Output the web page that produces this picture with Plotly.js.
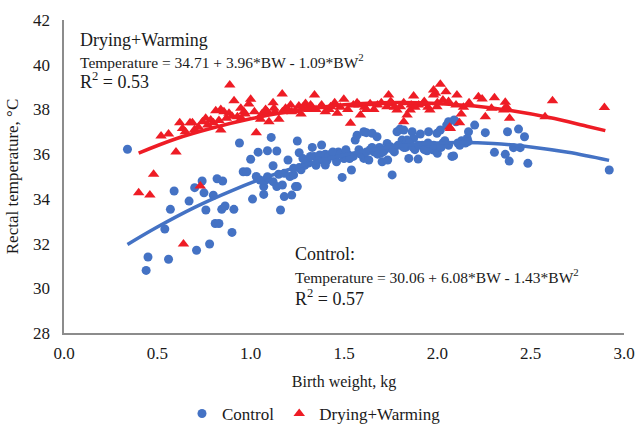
<!DOCTYPE html>
<html>
<head>
<meta charset="utf-8">
<script src="https://cdn.plot.ly/plotly-3.0.1.min.js"></script>
<style>html,body{margin:0;padding:0;background:#fff;}#chart{width:637px;height:427px;}</style>
</head>
<body>
<div id="chart"></div>
<script>
// Control (birth weight kg, rectal temperature °C)
const controlBW = [0.34,0.44,0.45,0.54,0.56,0.57,0.59,0.67,0.70,0.71,0.74,0.75,0.76,0.78,0.80,0.81,0.83,0.82,0.85,0.845,0.863,0.90,0.91,0.94,0.96,0.98,1.0,1.01,
1.04,1.09,1.14,1.11,1.25,1.26,1.12,1.20,1.07,1.07,1.08,1.12,1.16,1.18,1.22,1.24,1.14,1.21,1.23,1.05,1.09,1.17,1.25,1.03,1.15,1.18,1.23,1.27,1.29,1.30,1.31,
1.34,1.37,1.33,1.35,1.38,1.39,1.40,1.41,1.43,1.446,1.46,1.47,1.49,1.50,1.52,1.54,1.55,1.56,1.57,1.58,1.588,1.606,1.606,1.62,1.633,1.64,1.651,1.66,1.677,1.69,1.695,1.704,1.72,1.731,1.734,1.749,1.758,1.77,1.784,1.80,1.811,1.82,1.83,1.838,1.847,1.865,1.873,1.88,1.897,1.909,1.92,1.945,1.953,1.96,1.98,1.998,2.0,2.016,2.03,2.05,2.06,2.078,2.09,2.10,2.087,2.11,2.13,2.15,
1.26,1.28,1.32,1.36,1.40,1.42,1.44,1.48,1.51,1.53,1.59,1.62,1.65,1.68,1.71,1.74,1.76,1.79,1.82,1.85,1.87,1.90,1.93,1.95,1.98,2.02,2.04,2.06,2.12,
2.167,2.16,2.165,2.2,2.257,2.306,2.364,2.376,2.385,2.408,2.435,2.444,2.467,2.485,2.921];
const controlT = [36.22,30.8,31.4,32.65,31.3,33.53,34.35,33.9,34.5,31.7,34.8,34.27,33.5,31.98,34.16,32.9,32.9,34.9,34.8,33.53,33.68,32.5,33.53,36.5,35.21,35.21,35.77,33.99,
36.09,36.15,36.14,36.75,36.59,36.06,35.48,35.74,34.55,34.2,34.84,34.77,33.5,34.1,34.17,34.55,34.55,35.0,35.07,34.84,34.99,34.62,34.55,35.0,35.1,35.14,35.37,35.3,35.5,35.74,35.6,
35.9,35.96,36.3,35.5,36.41,35.7,35.51,35.74,36.0,35.89,35.66,36.1,34.96,35.8,36.0,35.29,35.9,36.63,36.85,36.2,36.04,35.81,37.0,36.96,35.74,36.2,36.93,36.1,36.78,36.3,36.04,35.66,36.2,36.48,35.74,36.33,35.07,36.1,37.0,37.12,36.63,37.08,36.3,36.63,35.81,37.0,36.7,36.2,35.78,36.9,36.4,36.15,37.0,36.35,36.18,36.93,36.04,37.08,36.5,37.3,37.45,35.9,37.53,37.45,35.92,36.5,36.6,36.5,
35.4,35.8,35.9,35.7,36.0,35.9,36.1,36.0,36.2,35.8,36.0,36.1,36.3,36.0,36.1,36.3,36.2,36.4,36.3,36.5,36.3,36.4,36.2,36.5,36.4,36.3,36.6,36.4,36.4,
37.0,36.7,36.56,37.3,36.96,36.08,35.99,37.0,35.69,36.29,37.12,36.29,36.78,35.59,35.29];

// Drying+Warming
const dryBW = [0.40,0.46,0.48,0.60,0.52,0.56,0.62,0.635,0.64,0.675,0.688,0.73,0.742,0.759,0.786,0.813,0.84,0.84,0.857,0.884,0.888,0.911,0.929,0.947,0.964,0.99,1.0,1.03,1.053,1.089,1.098,1.12,1.125,1.151,1.169,1.187,1.214,1.24,1.258,1.27,1.294,1.31,1.321,1.342,1.35,1.374,1.40,1.428,1.45,1.464,1.48,1.499,1.52,1.535,1.55,1.58,1.588,1.61,1.64,1.66,1.70,1.73,1.739,1.758,1.784,1.802,1.82,1.838,1.855,1.873,1.90,1.924,1.96,1.98,1.98,1.99,1.998,2.016,2.03,2.046,2.066,2.07,2.105,2.119,2.128,2.17,2.22,2.24,2.257,2.29,2.306,2.355,2.364,2.37,2.387,2.577,2.617,2.895,
0.65,0.70,0.72,0.77,0.80,0.83,0.87,0.90,0.95,0.97,1.02,1.06,1.08,1.13,1.17,1.20,1.22,1.28,1.33,1.38,1.42,
1.57,1.62,1.68,1.75,1.77,1.82,1.86,1.88,1.93,1.95,2.0,2.06,2.10,2.14];
const dryT = [34.27,34.17,35.1,36.1,36.81,36.9,37.4,37.15,31.98,37.4,37.4,34.57,37.45,37.6,37.53,37.94,38.0,37.08,37.9,37.83,39.09,38.39,37.67,38.05,37.9,38.24,38.45,36.96,37.56,37.9,37.45,38.3,38.05,37.56,38.69,38.05,38.2,37.95,38.15,37.8,38.27,38.0,38.2,38.64,38.0,38.12,37.9,38.12,38.3,37.83,38.1,38.45,38.0,37.38,38.2,38.2,37.75,38.1,38.25,38.0,38.3,38.12,38.64,38.27,37.97,38.12,37.45,37.75,37.97,38.6,38.2,38.27,37.97,38.64,38.87,38.72,38.12,39.13,38.42,38.79,37.2,37.15,38.64,37.4,37.8,38.3,38.57,38.47,37.67,38.05,38.52,37.97,38.32,38.12,37.6,37.67,38.39,38.09,
37.0,37.1,37.2,37.3,37.4,37.5,37.6,37.7,37.6,37.8,37.9,37.8,38.0,37.9,37.9,38.0,37.9,38.1,38.1,38.2,38.0,
38.3,38.0,38.2,38.35,38.1,38.3,38.2,38.1,38.35,38.1,38.3,38.35,38.2,38.1];

// Polynomial trendlines
const trendCtrlBW = [0.34,0.5,0.7,0.9,1.1,1.3,1.5,1.7,1.9,2.1,2.3,2.5,2.7,2.92];
const trendCtrlT  = [31.96,32.74,33.62,34.37,35.02,35.55,35.96,36.26,36.45,36.52,36.48,36.32,36.08,35.72];
const trendDryBW  = [0.40,0.6,0.8,1.0,1.2,1.4,1.6,1.8,2.0,2.2,2.4,2.6,2.8,2.90];
const trendDryT   = [36.05,36.69,37.18,37.58,37.89,38.12,38.26,38.31,38.27,38.15,37.94,37.64,37.25,37.05];

const xTicks = [0,0.5,1.0,1.5,2.0,2.5,3.0];
const yTicks = [28,30,32,34,36,38,40,42];

const dryLabel = ['Drying+Warming', 'Temperature = 34.71 + 3.96*BW - 1.09*BW<sup>2</sup>', 'R<sup>2</sup> = 0.53'];
const ctrlLabel = ['Control:', 'Temperature = 30.06 + 6.08*BW - 1.43*BW<sup>2</sup>', 'R<sup>2</sup> = 0.57'];

const BLUE = '#4472C4', RED = '#EE1C25';
const FONT = 'Liberation Serif';
const TXT = '#1a1a1a';

const traces = [
  {x: controlBW, y: controlT, type: 'scatter', mode: 'markers', name: 'Control',
   marker: {symbol: 'circle', size: 9, color: BLUE}},
  {x: dryBW, y: dryT, type: 'scatter', mode: 'markers', name: 'Drying+Warming',
   marker: {symbol: 'triangle-up', size: 10, color: RED}},
  {x: trendCtrlBW, y: trendCtrlT, type: 'scatter', mode: 'lines', showlegend: false,
   line: {color: BLUE, width: 3.5, shape: 'spline'}, hoverinfo: 'skip'},
  {x: trendDryBW, y: trendDryT, type: 'scatter', mode: 'lines', showlegend: false,
   line: {color: RED, width: 3.5, shape: 'spline'}, hoverinfo: 'skip'}
];

// plot area: x 64..624 px, y 20..333 px
const H = 313;
function py(p) { return (333 - p) / H; }
function px(p) { return (p - 64) / 560; }
function line(txt, xp, yp, size) {
  return {xref: 'paper', yref: 'paper', x: px(xp), y: py(yp), xanchor: 'left', yanchor: 'middle',
          align: 'left', showarrow: false, text: txt, font: {family: FONT, size: size, color: TXT}};
}

const layout = {
  width: 637, height: 427,
  margin: {l: 64, r: 13, t: 20, b: 94, autoexpand: false},
  paper_bgcolor: '#fff', plot_bgcolor: '#fff',
  font: {family: FONT, size: 17, color: TXT},
  showlegend: true,
  legend: {orientation: 'h', x: px(314), xanchor: 'center', y: py(414), yanchor: 'middle',
           font: {family: FONT, size: 17, color: TXT}, itemwidth: 30, tracegroupgap: 0},
  xaxis: {range: [0, 3], tickvals: xTicks, tickformat: '.1f', showgrid: false, zeroline: false,
          showline: true, linecolor: '#8c8c8c', linewidth: 2, ticks: '',
          tickfont: {family: FONT, size: 17}, ticklabelstandoff: 4,
          title: {text: 'Birth weight, kg', font: {family: FONT, size: 16}, standoff: 13}},
  yaxis: {range: [28, 42], tickvals: yTicks, showgrid: false, zeroline: false,
          showline: true, linecolor: '#8c8c8c', linewidth: 2.5, ticks: '',
          tickfont: {family: FONT, size: 17}, ticklabelstandoff: 8,
          title: {text: 'Rectal temperature, °C', font: {family: FONT, size: 17}, standoff: 10}},
  annotations: [
    line(dryLabel[0], 78, 40, 18),
    line(dryLabel[1], 78, 61, 15.5),
    line(dryLabel[2], 78, 80, 18),
    line(ctrlLabel[0], 293, 254, 18),
    line(ctrlLabel[1], 293, 276, 15.5),
    line(ctrlLabel[2], 293, 297, 18)
  ]
};

Plotly.newPlot('chart', traces, layout, {staticPlot: true, displayModeBar: false});
</script>
</body>
</html>
